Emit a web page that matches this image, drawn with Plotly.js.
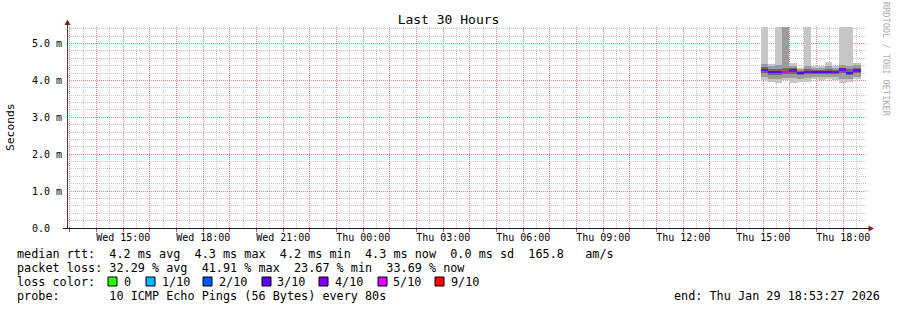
<!DOCTYPE html>
<html>
<head>
<meta charset="utf-8">
<script src="https://cdn.plot.ly/plotly-3.0.1.min.js"></script>
<style>
html,body{margin:0;padding:0;background:#fff;}
#chart{width:897px;height:310px;}
#chart .cartesianlayer path{shape-rendering:crispEdges;}
</style>
</head>
<body>
<div id="chart"></div>
<script>
// ---------------- DATA ----------------
// consolidated 16-minute step centres (Thu Jan 29 2026)
const times = ['2026-01-29 15:03','2026-01-29 15:19','2026-01-29 15:35','2026-01-29 15:51',
               '2026-01-29 16:07','2026-01-29 16:23','2026-01-29 16:39','2026-01-29 16:55',
               '2026-01-29 17:11','2026-01-29 17:27','2026-01-29 17:43','2026-01-29 17:59',
               '2026-01-29 18:15','2026-01-29 18:31'];
// smoke bands (ms): outer (min..max), middle, inner
const pingMax = [6.0, 4.45, 6.0, 6.0, 4.48, 4.35, 6.0, 4.38, 4.38, 4.51, 4.40, 6.0, 6.0, 4.48];
const pingHi2 = [4.45, 4.38, 4.42, 6.0, 4.40, 4.30, 4.38, 4.33, 4.33, 4.38, 4.34, 4.42, 4.38, 4.42];
const pingHi3 = [4.36, 4.30, 4.32, 4.33, 4.33, 4.26, 4.30, 4.28, 4.28, 4.30, 4.29, 4.35, 4.30, 4.34];
const median  = [4.28, 4.24, 4.24, 4.24, 4.27, 4.21, 4.24, 4.24, 4.24, 4.24, 4.24, 4.30, 4.21, 4.27];
const pingLo3 = [4.20, 4.16, 4.15, 4.17, 4.18, 4.15, 4.17, 4.18, 4.17, 4.17, 4.17, 4.20, 4.15, 4.20];
const pingLo2 = [4.10, 4.05, 4.05, 4.08, 4.06, 4.05, 4.07, 4.10, 4.10, 4.10, 4.10, 4.05, 4.05, 4.10];
const pingMin = [4.02, 3.97, 3.94, 4.00, 3.94, 3.97, 3.97, 4.05, 4.02, 4.05, 4.02, 3.94, 3.97, 4.05];
// loss per step (tenths)
const lossLevel = [4, 3, 3, 5, 4, 3, 4, 3, 3, 3, 4, 4, 3, 4];

const lossLabels = ['0', '1/10', '2/10', '3/10', '4/10', '5/10', '9/10'];
const lossColors = ['#26ff00', '#00b8ff', '#0059ff', '#5e00ff', '#7e00ff', '#dd00ff', '#ff0000'];
const lossColorByLevel = {0:'#26ff00',1:'#00b8ff',2:'#0059ff',3:'#5e00ff',4:'#7e00ff',5:'#dd00ff',9:'#ff0000'};

const yTickVals = [0, 1, 2, 3, 4, 5];
const yTickText = ['0.0\u00a0\u00a0', '1.0 m', '2.0 m', '3.0 m', '4.0 m', '5.0 m'];

const medianRtt = [4.2, 4.3, 4.2, 4.3];   // avg, max, min, now (ms)
const medianSd = 0.0;
const amPerS = 165.8;
const packetLoss = [32.29, 41.91, 23.67, 33.69]; // avg, max, min, now (%)
const probeText = '10 ICMP Echo Pings (56 Bytes) every 80s';
const endText = 'end: Thu Jan 29 18:53:27 2026';

const xStart = '2026-01-28 12:53:27';
const xEnd = '2026-01-29 18:53:27';

// ---------------- LAYOUT HELPERS ----------------
const ML = 67, MR = 30, MT = 27, MB = 82, W = 897, H = 310;
const PW = W - ML - MR, PH = H - MT - MB;
const px = x => (x - ML) / PW;
const py = y => (H - MB - y) / PH;
const MONO = 'DejaVu Sans Mono, monospace';
const nb = s => s.replace(/ /g, '\u00a0');
const STEP = 16 * 60 * 1000;

function bandTrace(lo, hi, color) {
  return {
    type: 'bar', x: times, base: lo, y: hi.map((v, i) => v - lo[i]),
    width: times.map(() => STEP), marker: {color: color, line: {width: 0}},
    hoverinfo: 'skip', showlegend: false
  };
}
const medLo = median.map(v => v - 0.03);
const medHi = median.map(v => v + 0.03);
const traces = [
  bandTrace(pingMin, pingMax, '#c6c6c6'),
  bandTrace(pingLo2, pingHi2, '#9c9c9c'),
  bandTrace(pingLo3, pingHi3, '#6c6c6c'),
  {
    type: 'bar', x: times, base: medLo, y: medHi.map((v, i) => v - medLo[i]),
    width: times.map(() => STEP),
    marker: {color: lossLevel.map(l => lossColorByLevel[l]), line: {width: 0}},
    hoverinfo: 'skip', showlegend: false
  }
];

// x ticks: every hour, labels every 3 hours; minor grid on the half hours
const days = ['Sun','Mon','Tue','Wed','Thu','Fri','Sat'];
const pad2 = n => (n < 10 ? '0' : '') + n;
const fmt = d => d.getUTCFullYear() + '-' + pad2(d.getUTCMonth() + 1) + '-' + pad2(d.getUTCDate()) +
                 ' ' + pad2(d.getUTCHours()) + ':' + pad2(d.getUTCMinutes()) + ':00';
const xTickVals = [], xTickText = [], xMinorVals = [];
const t0 = Date.UTC(2026, 0, 28, 13, 0, 0);
for (let h = 0; h < 30; h++) {
  const d = new Date(t0 + h * 3600000);
  xTickVals.push(fmt(d));
  xTickText.push(d.getUTCHours() % 3 === 0 ? days[d.getUTCDay()] + ' ' + pad2(d.getUTCHours()) + ':00' : '');
}
for (let h = -1; h < 30; h++) xMinorVals.push(fmt(new Date(t0 + h * 3600000 + 1800000)));
const yMinorVals = [];
for (let k = 1; k <= 27; k++) if (k % 5 !== 0) yMinorVals.push(k / 5);

const majorGrid = '#ee8080', minorGrid = '#c4c4c4';
const annotations = [];
function txt(s, x, y, opts) {
  annotations.push(Object.assign({
    text: nb(s), xref: 'paper', yref: 'paper', x: px(x), y: py(y),
    xanchor: 'left', yanchor: 'middle', showarrow: false,
    font: {family: MONO, size: 11.8, color: '#000'}, borderpad: 0
  }, opts || {}));
}
const f1 = v => v.toFixed(1), f2 = v => v.toFixed(2);
txt('median rtt:  ' + f1(medianRtt[0]) + ' ms avg  ' + f1(medianRtt[1]) + ' ms max  ' +
    f1(medianRtt[2]) + ' ms min  ' + f1(medianRtt[3]) + ' ms now  ' + f1(medianSd) + ' ms sd  ' +
    f1(amPerS) + '   am/s', 16, 254);
txt('packet loss: ' + f2(packetLoss[0]) + ' % avg  ' + f2(packetLoss[1]) + ' % max  ' +
    f2(packetLoss[2]) + ' % min  ' + f2(packetLoss[3]) + ' % now', 16, 268);
txt('loss color:', 16, 282);
txt('probe:       ' + probeText, 16, 296);
txt(endText, 881, 296, {xanchor: 'right'});

const swX = [108, 146, 203, 262, 319, 378, 435];
const labX = [123, 161, 218, 276, 334, 392, 450];
const shapes = [];
lossLabels.forEach((lab, i) => {
  txt(lab, labX[i], 282);
  shapes.push({type: 'rect', xref: 'paper', yref: 'paper',
    x0: px(swX[i]), x1: px(swX[i] + 9), y0: py(286), y1: py(277),
    fillcolor: lossColors[i], line: {color: '#000', width: 1}});
});
// watermark
annotations.push({text: 'RRDTOOL / TOBI OETIKER', xref: 'paper', yref: 'paper', x: px(886), y: py(59),
  xanchor: 'center', yanchor: 'middle', textangle: 90, showarrow: false,
  font: {family: MONO, size: 8.6, color: '#b0b0b0'}});
// y axis title
annotations.push({text: 'Seconds', xref: 'paper', yref: 'paper', x: px(11), y: py(127),
  xanchor: 'center', yanchor: 'middle', textangle: -90, showarrow: false,
  font: {family: MONO, size: 11.3, color: '#000'}});

// axis lines + arrows
shapes.push({type: 'line', xref: 'paper', yref: 'paper', x0: px(67.5), x1: px(67.5), y0: py(228), y1: py(24),
  line: {color: '#404040', width: 1}});
shapes.push({type: 'line', xref: 'paper', yref: 'paper', x0: px(63), x1: px(869), y0: py(228.5), y1: py(228.5),
  line: {color: '#1f1f1f', width: 1}});
shapes.push({type: 'path', xref: 'paper', yref: 'paper',
  path: 'M' + px(67.5) + ',' + py(19.5) + ' L' + px(64.5) + ',' + py(25) + ' L' + px(70.5) + ',' + py(25) + ' Z',
  fillcolor: '#801f1f', line: {width: 0}});
shapes.push({type: 'path', xref: 'paper', yref: 'paper',
  path: 'M' + px(874) + ',' + py(228.5) + ' L' + px(868.5) + ',' + py(225.5) + ' L' + px(868.5) + ',' + py(231.5) + ' Z',
  fillcolor: '#801f1f', line: {width: 0}});

const layout = {
  width: W, height: H, margin: {l: ML, r: MR, t: MT, b: MB, pad: 0},
  paper_bgcolor: '#fff', plot_bgcolor: '#fff',
  barmode: 'overlay', bargap: 0, showlegend: false,
  title: {text: 'Last 30 Hours', x: 0.5, xref: 'container', xanchor: 'center',
          y: 1 - 19 / H, yref: 'container', yanchor: 'middle',
          font: {family: MONO, size: 13, color: '#000'}},
  xaxis: {
    type: 'date', range: [xStart, xEnd], fixedrange: true,
    tickmode: 'array', tickvals: xTickVals, ticktext: xTickText,
    ticks: 'outside', ticklen: 3, tickwidth: 1, tickcolor: '#e05050',
    ticklabelstandoff: -3,
    tickfont: {family: MONO, size: 10, color: '#000'},
    showgrid: true, gridcolor: majorGrid, griddash: '1px,1px', gridwidth: 1,
    minor: {tickmode: 'array', tickvals: xMinorVals, showgrid: true, gridcolor: minorGrid,
            griddash: '1px,1px', gridwidth: 1, ticks: ''},
    showline: false, zeroline: false
  },
  yaxis: {
    range: [0, 5.45], fixedrange: true,
    tickmode: 'array', tickvals: yTickVals, ticktext: yTickText,
    ticks: '', ticklabelstandoff: 4,
    tickfont: {family: MONO, size: 10, color: '#000'},
    showgrid: true, gridcolor: majorGrid, griddash: '1px,1px', gridwidth: 1,
    minor: {tickmode: 'array', tickvals: yMinorVals, showgrid: true, gridcolor: minorGrid,
            griddash: '1px,1px', gridwidth: 1, ticks: ''},
    showline: false, zeroline: false
  },
  shapes: shapes,
  annotations: annotations
};

Plotly.newPlot('chart', traces, layout, {displayModeBar: false, staticPlot: true});
</script>
</body>
</html>
